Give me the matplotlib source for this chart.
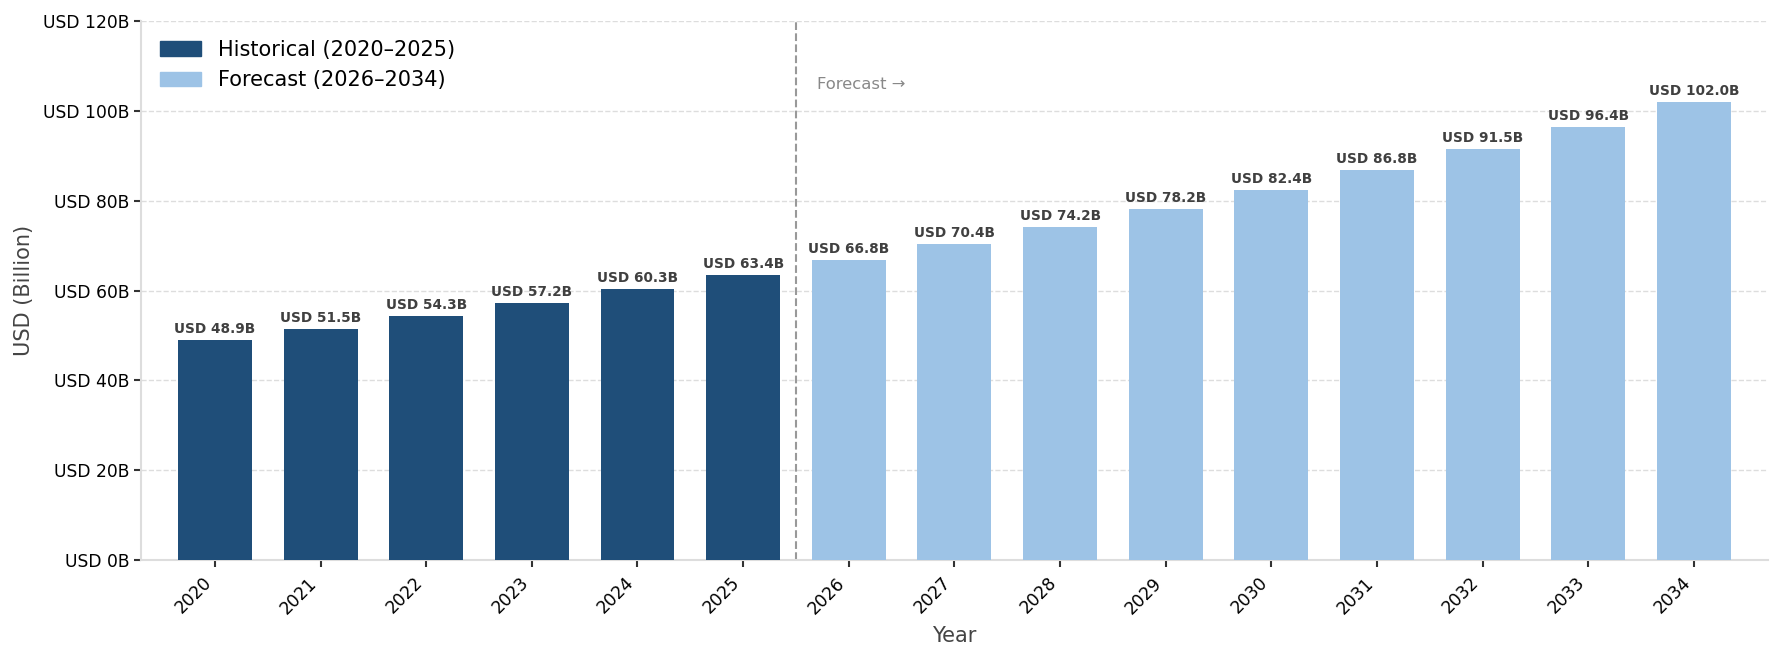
import matplotlib.pyplot as plt
import numpy as np

years = [2020, 2021, 2022, 2023, 2024, 2025, 2026, 2027, 2028, 2029, 2030, 2031, 2032, 2033, 2034]
values = [48.9, 51.5, 54.3, 57.2, 60.3, 63.4, 66.8, 70.4, 74.2, 78.2, 82.4, 86.8, 91.5, 96.4, 102.0]
n_hist = 6
hist_color = '#1f4e79'
fc_color = '#9dc3e6'

fig, ax = plt.subplots(figsize=(17.84, 6.61), dpi=100)
fig.subplots_adjust(left=0.079, right=0.991, top=0.968, bottom=0.153)

x = np.arange(len(years))
colors = [hist_color if i < n_hist else fc_color for i in range(len(years))]
bars = ax.bar(x, values, width=0.7, color=colors, zorder=3)

# labels above bars
for xi, v in zip(x, values):
    ax.annotate(f'USD {v:.1f}B', (xi, v), xytext=(0, 3), textcoords='offset points',
                ha='center', va='bottom', fontsize=9.8, fontweight='bold', color='#404040')

# split between history and forecast
ax.axvline(n_hist - 0.5, color='#999999', linestyle='--', linewidth=1.5, zorder=2)
ax.text(n_hist - 0.3, 106, 'Forecast \u2192', fontsize=11.8, color='#888888', va='center')

# legend handles
h1 = plt.Rectangle((0, 0), 1, 1, color=hist_color)
h2 = plt.Rectangle((0, 0), 1, 1, color=fc_color)
ax.legend([h1, h2], ['Historical (2020\u20132025)', 'Forecast (2026\u20132034)'],
          loc='upper left', fontsize=15, frameon=False, bbox_to_anchor=(0.0, 1.0))

ax.set_xlim(-0.7, len(years) - 0.3)
ax.set_ylim(0, 120)
ax.set_yticks(np.arange(0, 121, 20))
ax.set_yticklabels([f'USD {int(t)}B' for t in np.arange(0, 121, 20)])
ax.set_xticks(x)
ax.set_xticklabels([str(y) for y in years], rotation=45, ha='right')
ax.tick_params(axis='both', labelsize=12.3, length=5, width=1.5, color='#333333')
ax.tick_params(axis='x', pad=5)

ax.set_xlabel('Year', fontsize=15, color='#444444', labelpad=6)
ax.set_ylabel('USD (Billion)', fontsize=15, color='#444444', labelpad=6)

ax.grid(axis='y', linestyle='--', color='#dddddd', linewidth=1, zorder=0)
ax.set_axisbelow(True)
for s in ['top', 'right']:
    ax.spines[s].set_visible(False)
for s in ['left', 'bottom']:
    ax.spines[s].set_color('#dddddd')
    ax.spines[s].set_linewidth(1.5)

fig.savefig('out.png', dpi=100)
